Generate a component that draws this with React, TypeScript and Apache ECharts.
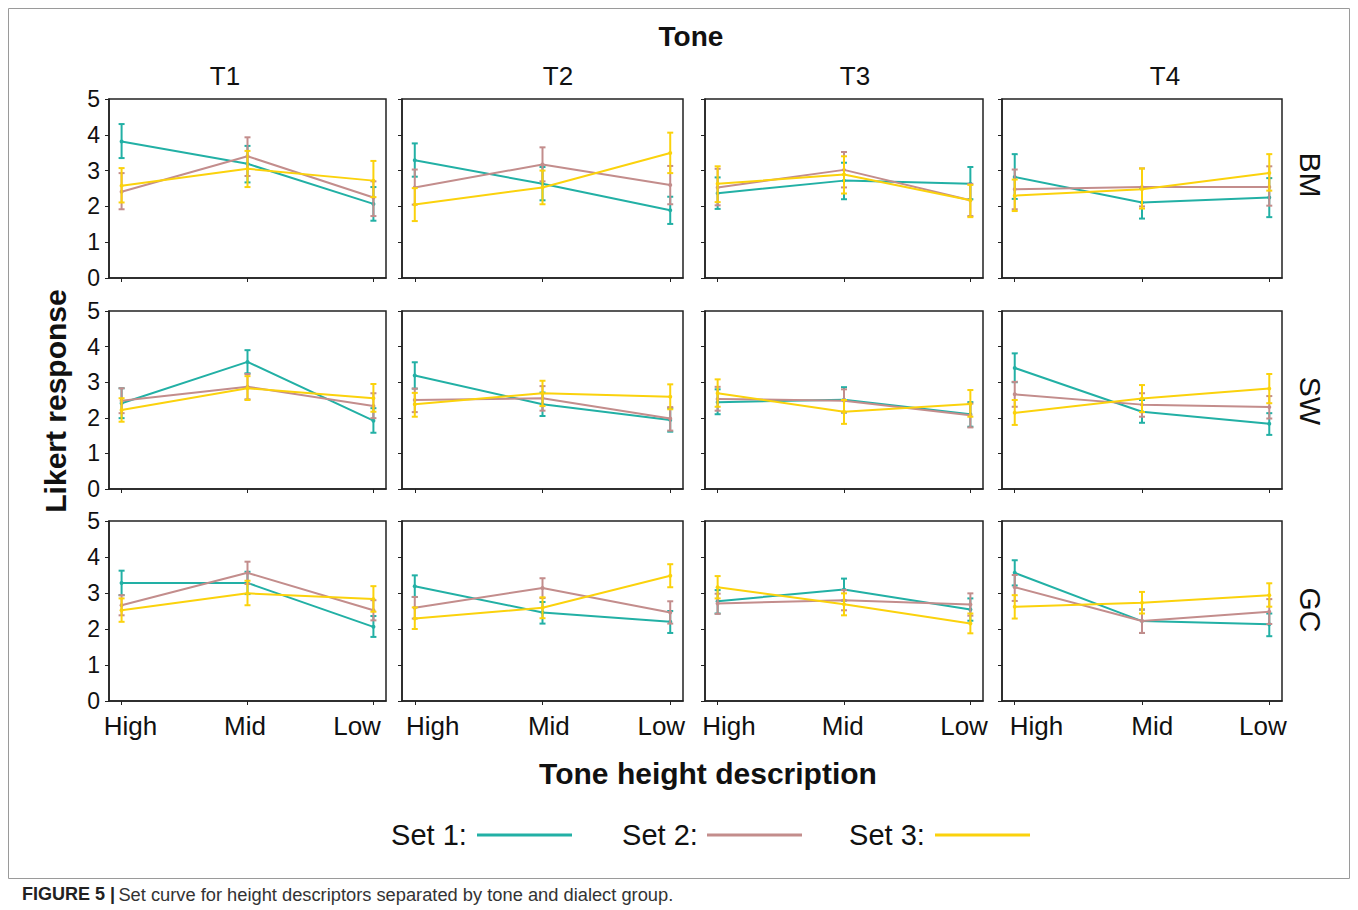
import React, { useEffect, useRef } from "react";
import * as echarts from "echarts";

// ---------- data ----------
const heights = ["High", "Mid", "Low"];
const tones = ["T1", "T2", "T3", "T4"];
const dialects = ["BM", "SW", "GC"];
const setNames = ["Set 1:", "Set 2:", "Set 3:"];
const yTicks = [0, 1, 2, 3, 4, 5];

// each: [Set1, Set2, Set3] x [High, Mid, Low]
const BM_T1_mean = [[3.81, 3.19, 2.07], [2.41, 3.40, 2.25], [2.58, 3.05, 2.72]];
const BM_T1_low = [[3.35, 2.67, 1.60], [1.92, 2.85, 1.73], [2.11, 2.54, 2.26]];
const BM_T1_high = [[4.30, 3.69, 2.54], [2.93, 3.93, 2.70], [3.07, 3.55, 3.27]];

const BM_T2_mean = [[3.29, 2.63, 1.89], [2.53, 3.17, 2.60], [2.05, 2.53, 3.49]];
const BM_T2_low = [[2.83, 2.17, 1.51], [2.05, 2.70, 2.06], [1.59, 2.06, 2.93]];
const BM_T2_high = [[3.76, 3.10, 2.27], [3.03, 3.65, 3.13], [2.51, 3.00, 4.06]];

const BM_T3_mean = [[2.37, 2.72, 2.63], [2.53, 3.02, 2.17], [2.63, 2.89, 2.17]];
const BM_T3_low = [[1.93, 2.20, 2.20], [2.03, 2.53, 1.73], [2.12, 2.36, 1.70]];
const BM_T3_high = [[2.81, 3.22, 3.10], [3.05, 3.52, 2.63], [3.12, 3.40, 2.60]];

const BM_T4_mean = [[2.82, 2.11, 2.25], [2.48, 2.54, 2.54], [2.30, 2.48, 2.93]];
const BM_T4_low = [[2.21, 1.66, 1.70], [1.92, 2.00, 2.02], [1.87, 1.94, 2.44]];
const BM_T4_high = [[3.46, 2.52, 2.79], [3.03, 3.06, 3.12], [2.75, 3.06, 3.46]];

const SW_T1_mean = [[2.41, 3.57, 1.92], [2.48, 2.87, 2.33], [2.22, 2.83, 2.55]];
const SW_T1_low = [[1.99, 3.25, 1.58], [2.13, 2.52, 1.99], [1.89, 2.50, 2.17]];
const SW_T1_high = [[2.83, 3.90, 2.27], [2.83, 3.23, 2.69], [2.55, 3.17, 2.95]];

const SW_T2_mean = [[3.19, 2.38, 1.94], [2.50, 2.55, 1.98], [2.38, 2.69, 2.59]];
const SW_T2_low = [[2.82, 2.05, 1.61], [2.16, 2.20, 1.64], [2.03, 2.33, 2.24]];
const SW_T2_high = [[3.56, 2.71, 2.27], [2.82, 2.89, 2.30], [2.70, 3.04, 2.94]];

const SW_T3_mean = [[2.44, 2.51, 2.10], [2.53, 2.48, 2.07], [2.69, 2.17, 2.39]];
const SW_T3_low = [[2.10, 2.15, 1.75], [2.20, 2.15, 1.73], [2.31, 1.83, 2.03]];
const SW_T3_high = [[2.80, 2.86, 2.44], [2.87, 2.80, 2.40], [3.08, 2.50, 2.78]];

const SW_T4_mean = [[3.40, 2.17, 1.83], [2.66, 2.37, 2.30], [2.14, 2.54, 2.82]];
const SW_T4_low = [[3.00, 1.86, 1.52], [2.31, 2.03, 1.98], [1.80, 2.16, 2.41]];
const SW_T4_high = [[3.81, 2.50, 2.13], [3.01, 2.69, 2.61], [2.50, 2.92, 3.23]];

const GC_T1_mean = [[3.28, 3.28, 2.06], [2.66, 3.56, 2.52], [2.52, 2.99, 2.83]];
const GC_T1_low = [[2.94, 2.97, 1.78], [2.38, 3.25, 2.24], [2.20, 2.66, 2.48]];
const GC_T1_high = [[3.62, 3.59, 2.36], [2.94, 3.87, 2.80], [2.85, 3.34, 3.19]];

const GC_T2_mean = [[3.19, 2.46, 2.20], [2.59, 3.14, 2.46], [2.29, 2.59, 3.48]];
const GC_T2_low = [[2.89, 2.15, 1.89], [2.29, 2.86, 2.15], [2.00, 2.30, 3.16]];
const GC_T2_high = [[3.49, 2.75, 2.50], [2.89, 3.41, 2.77], [2.60, 2.88, 3.80]];

const GC_T3_mean = [[2.77, 3.10, 2.54], [2.71, 2.80, 2.68], [3.16, 2.69, 2.15]];
const GC_T3_low = [[2.43, 2.79, 2.23], [2.42, 2.52, 2.37], [2.85, 2.38, 1.88]];
const GC_T3_high = [[3.08, 3.40, 2.85], [2.98, 3.08, 2.99], [3.47, 2.99, 2.43]];

const GC_T4_mean = [[3.56, 2.22, 2.13], [3.16, 2.22, 2.48], [2.62, 2.73, 2.94]];
const GC_T4_low = [[3.21, 1.89, 1.80], [2.78, 1.89, 2.14], [2.29, 2.43, 2.62]];
const GC_T4_high = [[3.91, 2.54, 2.43], [3.50, 2.54, 2.83], [2.94, 3.03, 3.27]];

const panels = [
  [BM_T1_mean, BM_T1_low, BM_T1_high],
  [BM_T2_mean, BM_T2_low, BM_T2_high],
  [BM_T3_mean, BM_T3_low, BM_T3_high],
  [BM_T4_mean, BM_T4_low, BM_T4_high],
  [SW_T1_mean, SW_T1_low, SW_T1_high],
  [SW_T2_mean, SW_T2_low, SW_T2_high],
  [SW_T3_mean, SW_T3_low, SW_T3_high],
  [SW_T4_mean, SW_T4_low, SW_T4_high],
  [GC_T1_mean, GC_T1_low, GC_T1_high],
  [GC_T2_mean, GC_T2_low, GC_T2_high],
  [GC_T3_mean, GC_T3_low, GC_T3_high],
  [GC_T4_mean, GC_T4_low, GC_T4_high],
];

// ---------- layout / style ----------
const colors = ["#22b0a5", "#c38d8c", "#fbd20c"];
const colLeft = [109, 402, 705, 1002];
const colWidth = [277, 281, 278, 280];
const rowTop = [99, 311, 521];
const rowHeight = [179, 178, 180];
// label anchor positions (axis units) per column, as placed in the original figure
const labelPos = [
  [0.07, 0.98, 1.87],
  [0.14, 1.05, 1.93],
  [0.09, 0.99, 1.95],
  [0.17, 1.08, 1.95],
];
const toneX = [225, 558, 855, 1165];
const dialectY = [175, 401, 610];
const FONT = "'Liberation Sans', Arial, Helvetica, sans-serif";
const AX = "#222";

function buildOption() {
  const grid: any[] = [];
  const xAxis: any[] = [];
  const yAxis: any[] = [];
  const series: any[] = [];

  for (let r = 0; r < 3; r++) {
    for (let c = 0; c < 4; c++) {
      const i = r * 4 + c;
      grid.push({
        left: colLeft[c],
        top: rowTop[r],
        width: colWidth[c],
        height: rowHeight[r],
        show: true,
        borderColor: AX,
        borderWidth: 1.5,
        backgroundColor: "#fff",
        containLabel: false,
      });
      xAxis.push({
        type: "value",
        gridIndex: i,
        min: -0.1,
        max: 2.1,
        splitLine: { show: false },
        axisLine: { show: true, onZero: false, lineStyle: { color: AX, width: 1.5 } },
        axisTick: { show: true, customValues: [0, 1, 2], length: 4, lineStyle: { color: AX } },
        axisLabel: {
          show: r === 2,
          customValues: labelPos[c],
          formatter: (v: number) => heights[Math.round(v)] ?? "",
          fontFamily: FONT,
          fontSize: 26,
          color: "#111",
          margin: 12,
        },
      });
      yAxis.push({
        type: "value",
        gridIndex: i,
        min: 0,
        max: 5,
        interval: 1,
        splitLine: { show: false },
        axisLine: { show: true, onZero: false, lineStyle: { color: AX, width: 1.5 } },
        axisTick: { show: true, length: 4, lineStyle: { color: AX } },
        axisLabel: {
          show: c === 0,
          fontFamily: FONT,
          fontSize: 23,
          color: "#111",
          margin: 9,
          formatter: (v: number) => (yTicks.includes(v) ? String(v) : ""),
        },
      });

      const [mean, low, high] = panels[i];
      for (let s = 0; s < 3; s++) {
        const col = colors[s];
        series.push({
          type: "custom",
          xAxisIndex: i,
          yAxisIndex: i,
          z: 3 + s,
          encode: { x: 0, y: [1, 2] },
          data: heights.map((_, k) => [k, low[s][k], high[s][k]]),
          renderItem: (_p: any, api: any) => {
            const x = api.value(0);
            const a = api.coord([x, api.value(1)]);
            const b = api.coord([x, api.value(2)]);
            const cap = 3;
            const st = { stroke: col, lineWidth: 2 };
            return {
              type: "group",
              children: [
                { type: "line", shape: { x1: a[0], y1: a[1], x2: b[0], y2: b[1] }, style: st },
                { type: "line", shape: { x1: a[0] - cap, y1: a[1], x2: a[0] + cap, y2: a[1] }, style: st },
                { type: "line", shape: { x1: b[0] - cap, y1: b[1], x2: b[0] + cap, y2: b[1] }, style: st },
              ],
            };
          },
        });
        series.push({
          type: "line",
          name: setNames[s],
          xAxisIndex: i,
          yAxisIndex: i,
          z: 3 + s,
          data: heights.map((_, k) => [k, mean[s][k]]),
          symbol: "circle",
          symbolSize: 4,
          itemStyle: { color: col },
          lineStyle: { color: col, width: 2 },
        });
      }
    }
  }

  const text = (x: number, y: number, t: string, font: string, extra: any = {}) => ({
    type: "text",
    x,
    y,
    ...extra,
    style: { text: t, font, fill: "#111", align: "center", verticalAlign: "middle" },
  });

  const graphic: any[] = [
    {
      type: "rect",
      shape: { x: 8.5, y: 8.5, width: 1341, height: 870 },
      style: { fill: "none", stroke: "#9a9a9a", lineWidth: 1 },
      z: -10,
    },
    text(691, 36, "Tone", `bold 28px ${FONT}`),
    text(708, 773, "Tone height description", `bold 30px ${FONT}`),
    text(55, 401, "Likert response", `bold 30px ${FONT}`, { rotation: Math.PI / 2 }),
  ];
  tones.forEach((t, c) => {
    graphic.push(text(toneX[c], 76, t, `26px ${FONT}`));
  });
  dialects.forEach((d, r) => {
    graphic.push(text(1310, dialectY[r], d, `30px ${FONT}`, { rotation: -Math.PI / 2 }));
  });
  const legX = [429, 660, 887];
  const lineX = [477, 707, 935];
  setNames.forEach((n, s) => {
    graphic.push(text(legX[s], 835, n, `29px ${FONT}`));
    graphic.push({
      type: "line",
      shape: { x1: lineX[s], y1: 835, x2: lineX[s] + 95, y2: 835 },
      style: { stroke: colors[s], lineWidth: 3 },
    });
  });
  graphic.push({
    type: "text",
    x: 22,
    y: 894,
    style: {
      rich: {
        b: { font: `bold 18px ${FONT}`, fill: "#222" },
        n: { font: `18.3px ${FONT}`, fill: "#333" },
      },
      text: "{b|FIGURE 5 |} {n|Set curve for height descriptors separated by tone and dialect group.}",
      verticalAlign: "middle",
      align: "left",
    },
  });

  return {
    animation: false,
    backgroundColor: "#fff",
    grid,
    xAxis,
    yAxis,
    series,
    graphic,
  };
}

export default function App() {
  const ref = useRef<HTMLDivElement>(null);
  useEffect(() => {
    if (!ref.current) return;
    const chart = echarts.init(ref.current, undefined, { renderer: "svg" });
    chart.setOption(buildOption() as any);
    return () => chart.dispose();
  }, []);
  return (
    <div
      ref={ref}
      style={{ position: "absolute", left: 0, top: 0, width: 1358, height: 910, background: "#fff" }}
    />
  );
}
